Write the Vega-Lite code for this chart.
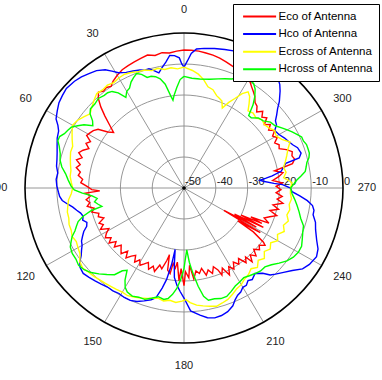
{
"$schema": "https://vega.github.io/schema/vega-lite/v6.json",
"width": 382, "height": 380, "autosize": "none", "padding": 0,
"config": {"view": {"stroke": null}, "font": "Liberation Sans"},
"datasets": {
"rings": [
{"d":-40,"a":0},{"d":-40,"a":30},{"d":-40,"a":60},{"d":-40,"a":90},{"d":-40,"a":120},{"d":-40,"a":150},{"d":-40,"a":180},{"d":-40,"a":210},{"d":-40,"a":240},{"d":-40,"a":270},{"d":-40,"a":300},{"d":-40,"a":330},
{"d":-30,"a":0},{"d":-30,"a":30},{"d":-30,"a":60},{"d":-30,"a":90},{"d":-30,"a":120},{"d":-30,"a":150},{"d":-30,"a":180},{"d":-30,"a":210},{"d":-30,"a":240},{"d":-30,"a":270},{"d":-30,"a":300},{"d":-30,"a":330},
{"d":-20,"a":0},{"d":-20,"a":30},{"d":-20,"a":60},{"d":-20,"a":90},{"d":-20,"a":120},{"d":-20,"a":150},{"d":-20,"a":180},{"d":-20,"a":210},{"d":-20,"a":240},{"d":-20,"a":270},{"d":-20,"a":300},{"d":-20,"a":330},
{"d":-10,"a":0},{"d":-10,"a":30},{"d":-10,"a":60},{"d":-10,"a":90},{"d":-10,"a":120},{"d":-10,"a":150},{"d":-10,"a":180},{"d":-10,"a":210},{"d":-10,"a":240},{"d":-10,"a":270},{"d":-10,"a":300},{"d":-10,"a":330},
{"d":0,"a":0},{"d":0,"a":30},{"d":0,"a":60},{"d":0,"a":90},{"d":0,"a":120},{"d":0,"a":150},{"d":0,"a":180},{"d":0,"a":210},{"d":0,"a":240},{"d":0,"a":270},{"d":0,"a":300},{"d":0,"a":330}
],
"spokes": [{"a":0,"t":"0"},{"a":30,"t":"30"},{"a":60,"t":"60"},{"a":90,"t":"90"},{"a":120,"t":"120"},{"a":150,"t":"150"},{"a":180,"t":"180"},{"a":210,"t":"210"},{"a":240,"t":"240"},{"a":270,"t":"270"},{"a":300,"t":"300"},{"a":330,"t":"330"}],
"radlab": [{"d":-50,"t":"-50"},{"d":-40,"t":"-40"},{"d":-30,"t":"-30"},{"d":-20,"t":"-20"},{"d":-10,"t":"-10"},{"d":0,"t":"0"}],
"curves": [
{"s":"Eco of Antenna","a":0,"d":-5.5},{"s":"Eco of Antenna","a":3,"d":-5.8},{"s":"Eco of Antenna","a":6,"d":-6.2},{"s":"Eco of Antenna","a":9,"d":-5.8},{"s":"Eco of Antenna","a":12,"d":-6.3},{"s":"Eco of Antenna","a":15,"d":-5.6},{"s":"Eco of Antenna","a":18,"d":-6.0},{"s":"Eco of Antenna","a":21,"d":-6.4},{"s":"Eco of Antenna","a":24,"d":-6.8},{"s":"Eco of Antenna","a":27,"d":-7.2},{"s":"Eco of Antenna","a":30,"d":-8.0},{"s":"Eco of Antenna","a":33,"d":-9.0},{"s":"Eco of Antenna","a":35,"d":-10.0},{"s":"Eco of Antenna","a":37,"d":-9.4},{"s":"Eco of Antenna","a":39,"d":-9.8},{"s":"Eco of Antenna","a":41,"d":-9.0},{"s":"Eco of Antenna","a":43,"d":-10.5},{"s":"Eco of Antenna","a":45,"d":-13},{"s":"Eco of Antenna","a":47,"d":-16},{"s":"Eco of Antenna","a":49,"d":-19},{"s":"Eco of Antenna","a":51,"d":-21.5},{"s":"Eco of Antenna","a":53,"d":-20},{"s":"Eco of Antenna","a":55,"d":-17},{"s":"Eco of Antenna","a":57,"d":-16},{"s":"Eco of Antenna","a":59,"d":-15.5},{"s":"Eco of Antenna","a":61,"d":-15},{"s":"Eco of Antenna","a":63,"d":-17},{"s":"Eco of Antenna","a":65,"d":-16},{"s":"Eco of Antenna","a":67,"d":-17.5},{"s":"Eco of Antenna","a":69,"d":-16},{"s":"Eco of Antenna","a":71,"d":-15},{"s":"Eco of Antenna","a":73,"d":-16.5},{"s":"Eco of Antenna","a":75,"d":-15},{"s":"Eco of Antenna","a":77,"d":-16.5},{"s":"Eco of Antenna","a":79,"d":-15.5},{"s":"Eco of Antenna","a":81,"d":-17},{"s":"Eco of Antenna","a":83,"d":-16.5},{"s":"Eco of Antenna","a":85,"d":-18},{"s":"Eco of Antenna","a":87,"d":-17.5},{"s":"Eco of Antenna","a":89,"d":-19.5},{"s":"Eco of Antenna","a":91,"d":-21},{"s":"Eco of Antenna","a":92,"d":-23.5},{"s":"Eco of Antenna","a":93,"d":-19},{"s":"Eco of Antenna","a":95,"d":-20.5},{"s":"Eco of Antenna","a":97,"d":-19},{"s":"Eco of Antenna","a":99,"d":-20},{"s":"Eco of Antenna","a":101,"d":-19},{"s":"Eco of Antenna","a":103,"d":-21},{"s":"Eco of Antenna","a":105,"d":-20},{"s":"Eco of Antenna","a":107,"d":-22},{"s":"Eco of Antenna","a":109,"d":-21.5},{"s":"Eco of Antenna","a":111,"d":-23},{"s":"Eco of Antenna","a":113,"d":-21},{"s":"Eco of Antenna","a":115,"d":-22},{"s":"Eco of Antenna","a":117,"d":-20.5},{"s":"Eco of Antenna","a":119,"d":-23},{"s":"Eco of Antenna","a":121,"d":-21.5},{"s":"Eco of Antenna","a":123,"d":-20.5},{"s":"Eco of Antenna","a":125,"d":-22},{"s":"Eco of Antenna","a":127,"d":-20.5},{"s":"Eco of Antenna","a":129,"d":-22.5},{"s":"Eco of Antenna","a":131,"d":-21},{"s":"Eco of Antenna","a":133,"d":-23},{"s":"Eco of Antenna","a":135,"d":-22},{"s":"Eco of Antenna","a":137,"d":-21},{"s":"Eco of Antenna","a":139,"d":-23},{"s":"Eco of Antenna","a":141,"d":-21},{"s":"Eco of Antenna","a":143,"d":-22.5},{"s":"Eco of Antenna","a":145,"d":-23.5},{"s":"Eco of Antenna","a":147,"d":-21.5},{"s":"Eco of Antenna","a":149,"d":-23},{"s":"Eco of Antenna","a":151,"d":-21.5},{"s":"Eco of Antenna","a":153,"d":-22.5},{"s":"Eco of Antenna","a":155,"d":-23.5},{"s":"Eco of Antenna","a":157,"d":-21.5},{"s":"Eco of Antenna","a":159,"d":-23},{"s":"Eco of Antenna","a":161,"d":-21.5},{"s":"Eco of Antenna","a":163,"d":-24},{"s":"Eco of Antenna","a":165,"d":-23},{"s":"Eco of Antenna","a":167,"d":-26},{"s":"Eco of Antenna","a":168,"d":-28},{"s":"Eco of Antenna","a":169,"d":-23},{"s":"Eco of Antenna","a":171,"d":-22},{"s":"Eco of Antenna","a":172,"d":-25.5},{"s":"Eco of Antenna","a":174,"d":-24},{"s":"Eco of Antenna","a":175,"d":-26},{"s":"Eco of Antenna","a":177,"d":-20},{"s":"Eco of Antenna","a":178,"d":-24},{"s":"Eco of Antenna","a":180,"d":-18.5},{"s":"Eco of Antenna","a":181,"d":-23},{"s":"Eco of Antenna","a":183,"d":-21},{"s":"Eco of Antenna","a":184,"d":-25},{"s":"Eco of Antenna","a":186,"d":-20.5},{"s":"Eco of Antenna","a":188,"d":-23},{"s":"Eco of Antenna","a":190,"d":-22},{"s":"Eco of Antenna","a":192,"d":-23.5},{"s":"Eco of Antenna","a":194,"d":-21},{"s":"Eco of Antenna","a":196,"d":-22.5},{"s":"Eco of Antenna","a":198,"d":-21},{"s":"Eco of Antenna","a":200,"d":-23},{"s":"Eco of Antenna","a":202,"d":-21.5},{"s":"Eco of Antenna","a":203,"d":-19.5},{"s":"Eco of Antenna","a":205,"d":-21.5},{"s":"Eco of Antenna","a":207,"d":-18.5},{"s":"Eco of Antenna","a":209,"d":-21},{"s":"Eco of Antenna","a":211,"d":-19.5},{"s":"Eco of Antenna","a":213,"d":-21.5},{"s":"Eco of Antenna","a":215,"d":-20},{"s":"Eco of Antenna","a":217,"d":-21.5},{"s":"Eco of Antenna","a":219,"d":-19},{"s":"Eco of Antenna","a":221,"d":-20.5},{"s":"Eco of Antenna","a":222,"d":-18},{"s":"Eco of Antenna","a":224,"d":-20},{"s":"Eco of Antenna","a":226,"d":-18.5},{"s":"Eco of Antenna","a":228,"d":-20.5},{"s":"Eco of Antenna","a":230,"d":-19},{"s":"Eco of Antenna","a":232,"d":-20},{"s":"Eco of Antenna","a":234,"d":-18.5},{"s":"Eco of Antenna","a":235,"d":-19.5},{"s":"Eco of Antenna","a":237,"d":-24},{"s":"Eco of Antenna","a":238,"d":-30},{"s":"Eco of Antenna","a":239,"d":-22},{"s":"Eco of Antenna","a":240,"d":-35.5},{"s":"Eco of Antenna","a":241,"d":-24},{"s":"Eco of Antenna","a":242,"d":-32},{"s":"Eco of Antenna","a":243,"d":-22},{"s":"Eco of Antenna","a":244,"d":-30},{"s":"Eco of Antenna","a":245,"d":-23},{"s":"Eco of Antenna","a":246,"d":-27},{"s":"Eco of Antenna","a":247,"d":-21},{"s":"Eco of Antenna","a":249,"d":-23},{"s":"Eco of Antenna","a":251,"d":-21.5},{"s":"Eco of Antenna","a":253,"d":-19.5},{"s":"Eco of Antenna","a":255,"d":-22},{"s":"Eco of Antenna","a":257,"d":-19.5},{"s":"Eco of Antenna","a":259,"d":-21.5},{"s":"Eco of Antenna","a":261,"d":-18.5},{"s":"Eco of Antenna","a":263,"d":-20.5},{"s":"Eco of Antenna","a":265,"d":-19},{"s":"Eco of Antenna","a":267,"d":-21},{"s":"Eco of Antenna","a":269,"d":-19.5},{"s":"Eco of Antenna","a":271,"d":-21},{"s":"Eco of Antenna","a":273,"d":-19},{"s":"Eco of Antenna","a":275,"d":-22},{"s":"Eco of Antenna","a":277,"d":-20},{"s":"Eco of Antenna","a":279,"d":-18.5},{"s":"Eco of Antenna","a":281,"d":-21},{"s":"Eco of Antenna","a":283,"d":-15},{"s":"Eco of Antenna","a":285,"d":-14},{"s":"Eco of Antenna","a":287,"d":-14.5},{"s":"Eco of Antenna","a":289,"d":-14},{"s":"Eco of Antenna","a":291,"d":-15.5},{"s":"Eco of Antenna","a":293,"d":-17.5},{"s":"Eco of Antenna","a":295,"d":-17},{"s":"Eco of Antenna","a":297,"d":-18},{"s":"Eco of Antenna","a":299,"d":-16.5},{"s":"Eco of Antenna","a":301,"d":-17.5},{"s":"Eco of Antenna","a":303,"d":-16},{"s":"Eco of Antenna","a":305,"d":-17.5},{"s":"Eco of Antenna","a":307,"d":-16},{"s":"Eco of Antenna","a":309,"d":-17.5},{"s":"Eco of Antenna","a":311,"d":-15.5},{"s":"Eco of Antenna","a":313,"d":-16.5},{"s":"Eco of Antenna","a":315,"d":-15},{"s":"Eco of Antenna","a":317,"d":-16.5},{"s":"Eco of Antenna","a":319,"d":-15},{"s":"Eco of Antenna","a":321,"d":-14.5},{"s":"Eco of Antenna","a":323,"d":-13},{"s":"Eco of Antenna","a":325,"d":-12},{"s":"Eco of Antenna","a":327,"d":-11},{"s":"Eco of Antenna","a":329,"d":-9.8},{"s":"Eco of Antenna","a":331,"d":-9.2},{"s":"Eco of Antenna","a":333,"d":-8.5},{"s":"Eco of Antenna","a":336,"d":-8.2},{"s":"Eco of Antenna","a":339,"d":-7.8},{"s":"Eco of Antenna","a":342,"d":-7.2},{"s":"Eco of Antenna","a":345,"d":-6.6},{"s":"Eco of Antenna","a":348,"d":-6.2},{"s":"Eco of Antenna","a":351,"d":-5.9},{"s":"Eco of Antenna","a":354,"d":-5.6},{"s":"Eco of Antenna","a":357,"d":-5.5},{"s":"Eco of Antenna","a":360,"d":-5.5},
{"s":"Hco of Antenna","a":0,"d":-11},{"s":"Hco of Antenna","a":1,"d":-10},{"s":"Hco of Antenna","a":2,"d":-8},{"s":"Hco of Antenna","a":4,"d":-7.2},{"s":"Hco of Antenna","a":6,"d":-7},{"s":"Hco of Antenna","a":8,"d":-9},{"s":"Hco of Antenna","a":10,"d":-10.5},{"s":"Hco of Antenna","a":12,"d":-12},{"s":"Hco of Antenna","a":14,"d":-11},{"s":"Hco of Antenna","a":16,"d":-10},{"s":"Hco of Antenna","a":18,"d":-10},{"s":"Hco of Antenna","a":20,"d":-9.5},{"s":"Hco of Antenna","a":23,"d":-9},{"s":"Hco of Antenna","a":26,"d":-8.5},{"s":"Hco of Antenna","a":29,"d":-7.5},{"s":"Hco of Antenna","a":31,"d":-6},{"s":"Hco of Antenna","a":33,"d":-4.5},{"s":"Hco of Antenna","a":36,"d":-3.2},{"s":"Hco of Antenna","a":39,"d":-2.5},{"s":"Hco of Antenna","a":42,"d":-1.8},{"s":"Hco of Antenna","a":45,"d":-1.3},{"s":"Hco of Antenna","a":49,"d":-1},{"s":"Hco of Antenna","a":52,"d":-1.5},{"s":"Hco of Antenna","a":55,"d":-2},{"s":"Hco of Antenna","a":58,"d":-3},{"s":"Hco of Antenna","a":61,"d":-4},{"s":"Hco of Antenna","a":63,"d":-5.5},{"s":"Hco of Antenna","a":65,"d":-6.5},{"s":"Hco of Antenna","a":68,"d":-7},{"s":"Hco of Antenna","a":71,"d":-7.8},{"s":"Hco of Antenna","a":74,"d":-8.5},{"s":"Hco of Antenna","a":77,"d":-9},{"s":"Hco of Antenna","a":80,"d":-9.3},{"s":"Hco of Antenna","a":83,"d":-10},{"s":"Hco of Antenna","a":86,"d":-9.7},{"s":"Hco of Antenna","a":89,"d":-10},{"s":"Hco of Antenna","a":92,"d":-10.5},{"s":"Hco of Antenna","a":94,"d":-10.8},{"s":"Hco of Antenna","a":96,"d":-11.5},{"s":"Hco of Antenna","a":98,"d":-13},{"s":"Hco of Antenna","a":100,"d":-14.5},{"s":"Hco of Antenna","a":102,"d":-15.5},{"s":"Hco of Antenna","a":104,"d":-16.5},{"s":"Hco of Antenna","a":106,"d":-17},{"s":"Hco of Antenna","a":108,"d":-16.5},{"s":"Hco of Antenna","a":110,"d":-17.5},{"s":"Hco of Antenna","a":112,"d":-17},{"s":"Hco of Antenna","a":114,"d":-15.5},{"s":"Hco of Antenna","a":116,"d":-14.5},{"s":"Hco of Antenna","a":118,"d":-13.5},{"s":"Hco of Antenna","a":120,"d":-13},{"s":"Hco of Antenna","a":122,"d":-12},{"s":"Hco of Antenna","a":124,"d":-11},{"s":"Hco of Antenna","a":126,"d":-9.5},{"s":"Hco of Antenna","a":128,"d":-8.5},{"s":"Hco of Antenna","a":131,"d":-8},{"s":"Hco of Antenna","a":134,"d":-8.5},{"s":"Hco of Antenna","a":137,"d":-9},{"s":"Hco of Antenna","a":140,"d":-9.5},{"s":"Hco of Antenna","a":143,"d":-10},{"s":"Hco of Antenna","a":146,"d":-10},{"s":"Hco of Antenna","a":149,"d":-10.3},{"s":"Hco of Antenna","a":152,"d":-10},{"s":"Hco of Antenna","a":155,"d":-10},{"s":"Hco of Antenna","a":158,"d":-10.5},{"s":"Hco of Antenna","a":161,"d":-11.5},{"s":"Hco of Antenna","a":164,"d":-12.5},{"s":"Hco of Antenna","a":166,"d":-13.5},{"s":"Hco of Antenna","a":168,"d":-17},{"s":"Hco of Antenna","a":169.5,"d":-20},{"s":"Hco of Antenna","a":171,"d":-25},{"s":"Hco of Antenna","a":172,"d":-30},{"s":"Hco of Antenna","a":173,"d":-25},{"s":"Hco of Antenna","a":174,"d":-21},{"s":"Hco of Antenna","a":176,"d":-18.5},{"s":"Hco of Antenna","a":178,"d":-16.5},{"s":"Hco of Antenna","a":180,"d":-14.5},{"s":"Hco of Antenna","a":183,"d":-10.3},{"s":"Hco of Antenna","a":187,"d":-8.7},{"s":"Hco of Antenna","a":190,"d":-7.5},{"s":"Hco of Antenna","a":193,"d":-7},{"s":"Hco of Antenna","a":196,"d":-7.2},{"s":"Hco of Antenna","a":199,"d":-7.8},{"s":"Hco of Antenna","a":202,"d":-9},{"s":"Hco of Antenna","a":204,"d":-10.5},{"s":"Hco of Antenna","a":206,"d":-11.5},{"s":"Hco of Antenna","a":208,"d":-12},{"s":"Hco of Antenna","a":210,"d":-13},{"s":"Hco of Antenna","a":212,"d":-13},{"s":"Hco of Antenna","a":214,"d":-14},{"s":"Hco of Antenna","a":216,"d":-13.5},{"s":"Hco of Antenna","a":219,"d":-14.5},{"s":"Hco of Antenna","a":222,"d":-13},{"s":"Hco of Antenna","a":224,"d":-11},{"s":"Hco of Antenna","a":226,"d":-10},{"s":"Hco of Antenna","a":229,"d":-8.5},{"s":"Hco of Antenna","a":232,"d":-6.8},{"s":"Hco of Antenna","a":235,"d":-4.5},{"s":"Hco of Antenna","a":238,"d":-3.5},{"s":"Hco of Antenna","a":242,"d":-2.8},{"s":"Hco of Antenna","a":245,"d":-3.5},{"s":"Hco of Antenna","a":248,"d":-5},{"s":"Hco of Antenna","a":252,"d":-6.5},{"s":"Hco of Antenna","a":255,"d":-7.2},{"s":"Hco of Antenna","a":258,"d":-8.5},{"s":"Hco of Antenna","a":260,"d":-8.5},{"s":"Hco of Antenna","a":262,"d":-9.2},{"s":"Hco of Antenna","a":264,"d":-11},{"s":"Hco of Antenna","a":266,"d":-13.5},{"s":"Hco of Antenna","a":268,"d":-16},{"s":"Hco of Antenna","a":270,"d":-16.5},{"s":"Hco of Antenna","a":272,"d":-19},{"s":"Hco of Antenna","a":273,"d":-21.7},{"s":"Hco of Antenna","a":275,"d":-25},{"s":"Hco of Antenna","a":276,"d":-26},{"s":"Hco of Antenna","a":277,"d":-24},{"s":"Hco of Antenna","a":278,"d":-22},{"s":"Hco of Antenna","a":280,"d":-19},{"s":"Hco of Antenna","a":282,"d":-18},{"s":"Hco of Antenna","a":284,"d":-17},{"s":"Hco of Antenna","a":285,"d":-12.5},{"s":"Hco of Antenna","a":287,"d":-11.5},{"s":"Hco of Antenna","a":290,"d":-12},{"s":"Hco of Antenna","a":292,"d":-13},{"s":"Hco of Antenna","a":295,"d":-14},{"s":"Hco of Antenna","a":297,"d":-14.5},{"s":"Hco of Antenna","a":300,"d":-15.5},{"s":"Hco of Antenna","a":303,"d":-16},{"s":"Hco of Antenna","a":305,"d":-14.5},{"s":"Hco of Antenna","a":307,"d":-14},{"s":"Hco of Antenna","a":309,"d":-12.5},{"s":"Hco of Antenna","a":311,"d":-11},{"s":"Hco of Antenna","a":313,"d":-9},{"s":"Hco of Antenna","a":316,"d":-6.5},{"s":"Hco of Antenna","a":318,"d":-5},{"s":"Hco of Antenna","a":320,"d":-4},{"s":"Hco of Antenna","a":325,"d":-3.5},{"s":"Hco of Antenna","a":330,"d":-3},{"s":"Hco of Antenna","a":335,"d":-2.8},{"s":"Hco of Antenna","a":340,"d":-3},{"s":"Hco of Antenna","a":344,"d":-3.5},{"s":"Hco of Antenna","a":348,"d":-4},{"s":"Hco of Antenna","a":352,"d":-4.5},{"s":"Hco of Antenna","a":355,"d":-5},{"s":"Hco of Antenna","a":357,"d":-6.5},{"s":"Hco of Antenna","a":358.5,"d":-9},{"s":"Hco of Antenna","a":360,"d":-11},
{"s":"Ecross of Antenna","a":0,"d":-11},{"s":"Ecross of Antenna","a":3,"d":-11.5},{"s":"Ecross of Antenna","a":6,"d":-11},{"s":"Ecross of Antenna","a":9,"d":-11.3},{"s":"Ecross of Antenna","a":12,"d":-10.5},{"s":"Ecross of Antenna","a":15,"d":-10.8},{"s":"Ecross of Antenna","a":18,"d":-10},{"s":"Ecross of Antenna","a":21,"d":-9.8},{"s":"Ecross of Antenna","a":24,"d":-9.2},{"s":"Ecross of Antenna","a":27,"d":-8.8},{"s":"Ecross of Antenna","a":30,"d":-9},{"s":"Ecross of Antenna","a":33,"d":-9.5},{"s":"Ecross of Antenna","a":36,"d":-9},{"s":"Ecross of Antenna","a":39,"d":-9.3},{"s":"Ecross of Antenna","a":42,"d":-9},{"s":"Ecross of Antenna","a":45,"d":-10},{"s":"Ecross of Antenna","a":48,"d":-11},{"s":"Ecross of Antenna","a":51,"d":-12},{"s":"Ecross of Antenna","a":54,"d":-11},{"s":"Ecross of Antenna","a":57,"d":-10},{"s":"Ecross of Antenna","a":60,"d":-9.5},{"s":"Ecross of Antenna","a":63,"d":-10.5},{"s":"Ecross of Antenna","a":66,"d":-11.5},{"s":"Ecross of Antenna","a":69,"d":-12.5},{"s":"Ecross of Antenna","a":72,"d":-12.5},{"s":"Ecross of Antenna","a":75,"d":-13},{"s":"Ecross of Antenna","a":78,"d":-13.5},{"s":"Ecross of Antenna","a":81,"d":-14},{"s":"Ecross of Antenna","a":84,"d":-14},{"s":"Ecross of Antenna","a":87,"d":-14.5},{"s":"Ecross of Antenna","a":90,"d":-15},{"s":"Ecross of Antenna","a":93,"d":-14.5},{"s":"Ecross of Antenna","a":96,"d":-13.5},{"s":"Ecross of Antenna","a":99,"d":-13},{"s":"Ecross of Antenna","a":102,"d":-12.5},{"s":"Ecross of Antenna","a":105,"d":-12.5},{"s":"Ecross of Antenna","a":108,"d":-12},{"s":"Ecross of Antenna","a":111,"d":-12},{"s":"Ecross of Antenna","a":114,"d":-11.5},{"s":"Ecross of Antenna","a":117,"d":-12},{"s":"Ecross of Antenna","a":120,"d":-11.5},{"s":"Ecross of Antenna","a":123,"d":-11},{"s":"Ecross of Antenna","a":126,"d":-9.5},{"s":"Ecross of Antenna","a":129,"d":-9},{"s":"Ecross of Antenna","a":132,"d":-9.5},{"s":"Ecross of Antenna","a":135,"d":-9.8},{"s":"Ecross of Antenna","a":138,"d":-10.2},{"s":"Ecross of Antenna","a":141,"d":-10.5},{"s":"Ecross of Antenna","a":144,"d":-10.8},{"s":"Ecross of Antenna","a":147,"d":-11},{"s":"Ecross of Antenna","a":150,"d":-11.2},{"s":"Ecross of Antenna","a":153,"d":-11},{"s":"Ecross of Antenna","a":156,"d":-11.5},{"s":"Ecross of Antenna","a":159,"d":-12},{"s":"Ecross of Antenna","a":162,"d":-12.5},{"s":"Ecross of Antenna","a":164,"d":-13},{"s":"Ecross of Antenna","a":167,"d":-13.5},{"s":"Ecross of Antenna","a":170,"d":-13},{"s":"Ecross of Antenna","a":173,"d":-13.5},{"s":"Ecross of Antenna","a":176,"d":-13},{"s":"Ecross of Antenna","a":179,"d":-13.5},{"s":"Ecross of Antenna","a":181,"d":-14},{"s":"Ecross of Antenna","a":183,"d":-13},{"s":"Ecross of Antenna","a":186,"d":-12},{"s":"Ecross of Antenna","a":189,"d":-11.5},{"s":"Ecross of Antenna","a":192,"d":-11},{"s":"Ecross of Antenna","a":195,"d":-10.5},{"s":"Ecross of Antenna","a":198,"d":-11},{"s":"Ecross of Antenna","a":201,"d":-11.5},{"s":"Ecross of Antenna","a":204,"d":-12.5},{"s":"Ecross of Antenna","a":207,"d":-13.5},{"s":"Ecross of Antenna","a":210,"d":-14},{"s":"Ecross of Antenna","a":213,"d":-15},{"s":"Ecross of Antenna","a":216,"d":-15.5},{"s":"Ecross of Antenna","a":219,"d":-16.5},{"s":"Ecross of Antenna","a":222,"d":-15.5},{"s":"Ecross of Antenna","a":225,"d":-17},{"s":"Ecross of Antenna","a":228,"d":-16},{"s":"Ecross of Antenna","a":231,"d":-17.5},{"s":"Ecross of Antenna","a":234,"d":-16.5},{"s":"Ecross of Antenna","a":237,"d":-17.5},{"s":"Ecross of Antenna","a":240,"d":-16},{"s":"Ecross of Antenna","a":243,"d":-17},{"s":"Ecross of Antenna","a":246,"d":-15.5},{"s":"Ecross of Antenna","a":249,"d":-16.5},{"s":"Ecross of Antenna","a":252,"d":-15.5},{"s":"Ecross of Antenna","a":255,"d":-16.5},{"s":"Ecross of Antenna","a":258,"d":-16},{"s":"Ecross of Antenna","a":261,"d":-16.5},{"s":"Ecross of Antenna","a":264,"d":-16},{"s":"Ecross of Antenna","a":267,"d":-16.5},{"s":"Ecross of Antenna","a":270,"d":-16.5},{"s":"Ecross of Antenna","a":273,"d":-16},{"s":"Ecross of Antenna","a":276,"d":-18.5},{"s":"Ecross of Antenna","a":279,"d":-17.5},{"s":"Ecross of Antenna","a":282,"d":-18},{"s":"Ecross of Antenna","a":285,"d":-17},{"s":"Ecross of Antenna","a":288,"d":-16},{"s":"Ecross of Antenna","a":291,"d":-15},{"s":"Ecross of Antenna","a":294,"d":-13.5},{"s":"Ecross of Antenna","a":297,"d":-15.5},{"s":"Ecross of Antenna","a":300,"d":-16.5},{"s":"Ecross of Antenna","a":303,"d":-16},{"s":"Ecross of Antenna","a":306,"d":-17},{"s":"Ecross of Antenna","a":309,"d":-17.5},{"s":"Ecross of Antenna","a":312,"d":-17},{"s":"Ecross of Antenna","a":315,"d":-18},{"s":"Ecross of Antenna","a":318,"d":-17.5},{"s":"Ecross of Antenna","a":321,"d":-18},{"s":"Ecross of Antenna","a":323,"d":-16},{"s":"Ecross of Antenna","a":325,"d":-14},{"s":"Ecross of Antenna","a":327,"d":-13},{"s":"Ecross of Antenna","a":329,"d":-14.5},{"s":"Ecross of Antenna","a":331,"d":-17},{"s":"Ecross of Antenna","a":333,"d":-19},{"s":"Ecross of Antenna","a":335,"d":-21.5},{"s":"Ecross of Antenna","a":337,"d":-19.5},{"s":"Ecross of Antenna","a":339,"d":-19},{"s":"Ecross of Antenna","a":341,"d":-18.5},{"s":"Ecross of Antenna","a":344,"d":-17},{"s":"Ecross of Antenna","a":347,"d":-16.5},{"s":"Ecross of Antenna","a":350,"d":-14.5},{"s":"Ecross of Antenna","a":353,"d":-13},{"s":"Ecross of Antenna","a":356,"d":-12},{"s":"Ecross of Antenna","a":360,"d":-11},
{"s":"Hcross of Antenna","a":0,"d":-14},{"s":"Hcross of Antenna","a":2,"d":-15},{"s":"Hcross of Antenna","a":4,"d":-17.5},{"s":"Hcross of Antenna","a":6,"d":-20},{"s":"Hcross of Antenna","a":7,"d":-21.5},{"s":"Hcross of Antenna","a":8,"d":-20},{"s":"Hcross of Antenna","a":10,"d":-16},{"s":"Hcross of Antenna","a":12,"d":-14},{"s":"Hcross of Antenna","a":14,"d":-13},{"s":"Hcross of Antenna","a":16,"d":-12.5},{"s":"Hcross of Antenna","a":18,"d":-12.5},{"s":"Hcross of Antenna","a":20,"d":-11},{"s":"Hcross of Antenna","a":22,"d":-10.2},{"s":"Hcross of Antenna","a":24,"d":-11},{"s":"Hcross of Antenna","a":26,"d":-12},{"s":"Hcross of Antenna","a":28,"d":-13.5},{"s":"Hcross of Antenna","a":30,"d":-14},{"s":"Hcross of Antenna","a":32,"d":-15.5},{"s":"Hcross of Antenna","a":34,"d":-13},{"s":"Hcross of Antenna","a":36,"d":-11.5},{"s":"Hcross of Antenna","a":38,"d":-11},{"s":"Hcross of Antenna","a":40,"d":-11},{"s":"Hcross of Antenna","a":43,"d":-10.5},{"s":"Hcross of Antenna","a":46,"d":-11},{"s":"Hcross of Antenna","a":49,"d":-11},{"s":"Hcross of Antenna","a":51,"d":-12},{"s":"Hcross of Antenna","a":53,"d":-14},{"s":"Hcross of Antenna","a":55,"d":-15},{"s":"Hcross of Antenna","a":57,"d":-12.5},{"s":"Hcross of Antenna","a":59,"d":-11},{"s":"Hcross of Antenna","a":61,"d":-9.5},{"s":"Hcross of Antenna","a":63,"d":-9},{"s":"Hcross of Antenna","a":65,"d":-8.5},{"s":"Hcross of Antenna","a":67,"d":-7.5},{"s":"Hcross of Antenna","a":69,"d":-7.5},{"s":"Hcross of Antenna","a":71,"d":-8.5},{"s":"Hcross of Antenna","a":74,"d":-9.5},{"s":"Hcross of Antenna","a":77,"d":-10},{"s":"Hcross of Antenna","a":80,"d":-11},{"s":"Hcross of Antenna","a":83,"d":-12.5},{"s":"Hcross of Antenna","a":86,"d":-13.5},{"s":"Hcross of Antenna","a":89,"d":-14.5},{"s":"Hcross of Antenna","a":91,"d":-15.5},{"s":"Hcross of Antenna","a":93,"d":-18},{"s":"Hcross of Antenna","a":95,"d":-21},{"s":"Hcross of Antenna","a":97,"d":-22.5},{"s":"Hcross of Antenna","a":99,"d":-21.5},{"s":"Hcross of Antenna","a":101,"d":-22.5},{"s":"Hcross of Antenna","a":103,"d":-23.5},{"s":"Hcross of Antenna","a":104,"d":-20},{"s":"Hcross of Antenna","a":106,"d":-17},{"s":"Hcross of Antenna","a":108,"d":-15},{"s":"Hcross of Antenna","a":110,"d":-14},{"s":"Hcross of Antenna","a":112,"d":-13},{"s":"Hcross of Antenna","a":114,"d":-11.5},{"s":"Hcross of Antenna","a":116,"d":-10.5},{"s":"Hcross of Antenna","a":118,"d":-9.5},{"s":"Hcross of Antenna","a":121,"d":-9},{"s":"Hcross of Antenna","a":124,"d":-9},{"s":"Hcross of Antenna","a":127,"d":-8.5},{"s":"Hcross of Antenna","a":130,"d":-9},{"s":"Hcross of Antenna","a":133,"d":-10},{"s":"Hcross of Antenna","a":136,"d":-11.5},{"s":"Hcross of Antenna","a":139,"d":-13},{"s":"Hcross of Antenna","a":142,"d":-14.5},{"s":"Hcross of Antenna","a":144,"d":-17},{"s":"Hcross of Antenna","a":146,"d":-18},{"s":"Hcross of Antenna","a":148,"d":-15},{"s":"Hcross of Antenna","a":150,"d":-13},{"s":"Hcross of Antenna","a":152,"d":-12},{"s":"Hcross of Antenna","a":155,"d":-11.5},{"s":"Hcross of Antenna","a":158,"d":-12},{"s":"Hcross of Antenna","a":161,"d":-12},{"s":"Hcross of Antenna","a":164,"d":-13},{"s":"Hcross of Antenna","a":167,"d":-14},{"s":"Hcross of Antenna","a":170,"d":-13.5},{"s":"Hcross of Antenna","a":172,"d":-14},{"s":"Hcross of Antenna","a":174,"d":-15.5},{"s":"Hcross of Antenna","a":176,"d":-17.5},{"s":"Hcross of Antenna","a":178,"d":-20.5},{"s":"Hcross of Antenna","a":180,"d":-24},{"s":"Hcross of Antenna","a":181,"d":-27},{"s":"Hcross of Antenna","a":182.5,"d":-30},{"s":"Hcross of Antenna","a":184,"d":-26},{"s":"Hcross of Antenna","a":185,"d":-24},{"s":"Hcross of Antenna","a":186,"d":-22},{"s":"Hcross of Antenna","a":188,"d":-18},{"s":"Hcross of Antenna","a":190,"d":-14.5},{"s":"Hcross of Antenna","a":192,"d":-13},{"s":"Hcross of Antenna","a":195,"d":-13},{"s":"Hcross of Antenna","a":198,"d":-12.5},{"s":"Hcross of Antenna","a":201,"d":-12.5},{"s":"Hcross of Antenna","a":204,"d":-13.5},{"s":"Hcross of Antenna","a":207,"d":-14.5},{"s":"Hcross of Antenna","a":210,"d":-15},{"s":"Hcross of Antenna","a":213,"d":-15.5},{"s":"Hcross of Antenna","a":216,"d":-15},{"s":"Hcross of Antenna","a":219,"d":-14.5},{"s":"Hcross of Antenna","a":222,"d":-14},{"s":"Hcross of Antenna","a":225,"d":-14},{"s":"Hcross of Antenna","a":228,"d":-13},{"s":"Hcross of Antenna","a":231,"d":-11.5},{"s":"Hcross of Antenna","a":234,"d":-10},{"s":"Hcross of Antenna","a":237,"d":-9},{"s":"Hcross of Antenna","a":240,"d":-8.5},{"s":"Hcross of Antenna","a":243,"d":-8.5},{"s":"Hcross of Antenna","a":246,"d":-9.3},{"s":"Hcross of Antenna","a":249,"d":-10},{"s":"Hcross of Antenna","a":252,"d":-10.5},{"s":"Hcross of Antenna","a":255,"d":-12},{"s":"Hcross of Antenna","a":258,"d":-13},{"s":"Hcross of Antenna","a":261,"d":-14},{"s":"Hcross of Antenna","a":264,"d":-15},{"s":"Hcross of Antenna","a":267,"d":-16},{"s":"Hcross of Antenna","a":270,"d":-16.5},{"s":"Hcross of Antenna","a":272,"d":-15.5},{"s":"Hcross of Antenna","a":274,"d":-14.5},{"s":"Hcross of Antenna","a":276,"d":-13},{"s":"Hcross of Antenna","a":278,"d":-11.5},{"s":"Hcross of Antenna","a":280,"d":-11},{"s":"Hcross of Antenna","a":282,"d":-10.5},{"s":"Hcross of Antenna","a":284,"d":-9.5},{"s":"Hcross of Antenna","a":286,"d":-9},{"s":"Hcross of Antenna","a":288,"d":-9},{"s":"Hcross of Antenna","a":290,"d":-9},{"s":"Hcross of Antenna","a":292,"d":-9.5},{"s":"Hcross of Antenna","a":294,"d":-9.5},{"s":"Hcross of Antenna","a":296,"d":-10.5},{"s":"Hcross of Antenna","a":298,"d":-11.5},{"s":"Hcross of Antenna","a":300,"d":-12.5},{"s":"Hcross of Antenna","a":302,"d":-13.5},{"s":"Hcross of Antenna","a":305,"d":-15},{"s":"Hcross of Antenna","a":308,"d":-15.5},{"s":"Hcross of Antenna","a":311,"d":-17},{"s":"Hcross of Antenna","a":314,"d":-17.5},{"s":"Hcross of Antenna","a":317,"d":-19},{"s":"Hcross of Antenna","a":319,"d":-19},{"s":"Hcross of Antenna","a":321,"d":-15.5},{"s":"Hcross of Antenna","a":323,"d":-13},{"s":"Hcross of Antenna","a":325,"d":-11},{"s":"Hcross of Antenna","a":327,"d":-9.8},{"s":"Hcross of Antenna","a":330,"d":-9.5},{"s":"Hcross of Antenna","a":334,"d":-10.5},{"s":"Hcross of Antenna","a":337,"d":-11.8},{"s":"Hcross of Antenna","a":340,"d":-12.5},{"s":"Hcross of Antenna","a":343,"d":-13.2},{"s":"Hcross of Antenna","a":347,"d":-14},{"s":"Hcross of Antenna","a":352,"d":-14.5},{"s":"Hcross of Antenna","a":356,"d":-14.5},{"s":"Hcross of Antenna","a":360,"d":-14}
]
},
"encoding": {
"x": {"field": "px", "type": "quantitative", "scale": {"domain": [-57.86, 62.26], "nice": false, "zero": false}, "axis": null},
"y": {"field": "py", "type": "quantitative", "scale": {"domain": [-61.94, 60.65], "nice": false, "zero": false}, "axis": null}
},
"layer": [
{"data": {"name": "rings"},
 "transform": [{"filter": "datum.d < 0"}, {"calculate": "-(datum.d + 50) * sin(datum.a * PI / 180)", "as": "px"}, {"calculate": "(datum.d + 50) * cos(datum.a * PI / 180)", "as": "py"}],
 "mark": {"type": "line", "interpolate": "cardinal-closed", "color": "#8a8a8a", "strokeWidth": 0.9},
 "encoding": {"detail": {"field": "d"}, "order": {"field": "a", "type": "quantitative"}}},
{"data": {"name": "spokes"},
 "transform": [{"calculate": "-50 * sin(datum.a * PI / 180)", "as": "px"}, {"calculate": "50 * cos(datum.a * PI / 180)", "as": "py"}],
 "mark": {"type": "rule", "color": "#8a8a8a", "strokeWidth": 0.9},
 "encoding": {"x2": {"datum": 0}, "y2": {"datum": 0}}},
{"data": {"name": "rings"},
 "transform": [{"filter": "datum.d == 0"}, {"calculate": "-(datum.d + 50) * sin(datum.a * PI / 180)", "as": "px"}, {"calculate": "(datum.d + 50) * cos(datum.a * PI / 180)", "as": "py"}],
 "mark": {"type": "line", "interpolate": "cardinal-closed", "color": "#000000", "strokeWidth": 1.6},
 "encoding": {"detail": {"field": "d"}, "order": {"field": "a", "type": "quantitative"}}},
{"data": {"name": "radlab"},
 "transform": [{"calculate": "datum.d + 50", "as": "px"}, {"calculate": "0", "as": "py"}],
 "mark": {"type": "text", "align": "left", "baseline": "alphabetic", "dx": 1, "dy": -3, "fontSize": 11, "font": "Liberation Sans", "color": "#222222"},
 "encoding": {"text": {"field": "t"}}},
{"data": {"name": "radlab"},
 "transform": [{"filter": "datum.d == -50"}, {"calculate": "0", "as": "px"}, {"calculate": "0", "as": "py"}],
 "mark": {"type": "point", "filled": true, "color": "#000000", "size": 14, "opacity": 1}},
{"data": {"name": "spokes"},
 "transform": [{"calculate": "-57.5 * sin(datum.a * PI / 180)", "as": "px"}, {"calculate": "57.5 * cos(datum.a * PI / 180)", "as": "py"}],
 "mark": {"type": "text", "align": "center", "baseline": "middle", "fontSize": 11, "font": "Liberation Sans", "color": "#222222"},
 "encoding": {"text": {"field": "t"}}},
{"data": {"name": "curves"},
 "transform": [{"calculate": "-(datum.d + 50) * sin(datum.a * PI / 180)", "as": "px"}, {"calculate": "(datum.d + 50) * cos(datum.a * PI / 180)", "as": "py"}],
 "mark": {"type": "line", "strokeWidth": 1.4},
 "encoding": {
  "color": {"field": "s", "type": "nominal",
   "scale": {"domain": ["Eco of Antenna", "Hco of Antenna", "Ecross of Antenna", "Hcross of Antenna"], "range": ["#ff0000", "#0000ff", "#ffff00", "#00ff00"]},
   "sort": ["Eco of Antenna", "Hco of Antenna", "Ecross of Antenna", "Hcross of Antenna"],
   "legend": {"title": null, "orient": "none", "legendX": 233, "legendY": 4, "padding": 5.5, "strokeColor": "#000000", "fillColor": "#ffffff",
     "symbolType": "M-0.4,0H5.1", "symbolSize": 144, "symbolStrokeWidth": 2, "labelFontSize": 11.5, "labelFont": "Liberation Sans", "labelColor": "#000000",
     "labelOffset": 26, "rowPadding": 4.6, "labelLimit": 200}},
  "order": {"field": "a", "type": "quantitative"}}}
]
}
